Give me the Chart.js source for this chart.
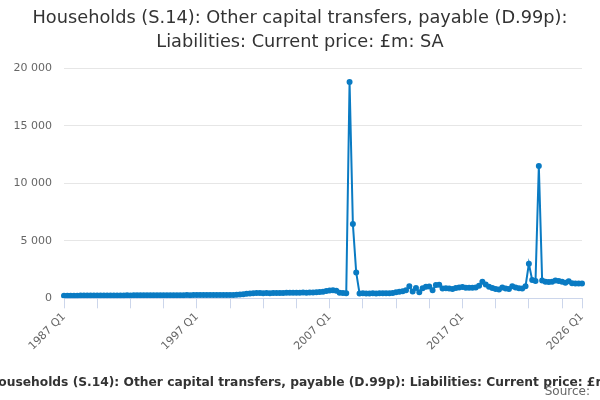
<!DOCTYPE html>
<html>
<head>
<meta charset="utf-8">
<script src="https://cdn.jsdelivr.net/npm/chart.js@4.4.1/dist/chart.umd.min.js"></script>
<style>
  body { margin: 0; background: #fff; }
  #wrap { position: relative; width: 600px; height: 400px; overflow: hidden; }
  #caption { position: absolute; left: -12px; top: 375px; white-space: nowrap;
    font: bold 12.25px "DejaVu Sans", sans-serif; color: #333; }
  #source { position: absolute; right: 10px; top: 384px; white-space: nowrap;
    font: 12px "DejaVu Sans", sans-serif; color: #666; }
</style>
</head>
<body>
<div id="wrap">
  <canvas id="chart" width="600" height="400"></canvas>
  <div id="caption">Households (S.14): Other capital transfers, payable (D.99p): Liabilities: Current price: £m: SA</div>
  <div id="source">Source:</div>
</div>
<script>
var startYear = 1987; // first quarter is 1987 Q1, last is 2026 Q1
var titleLines = ['Households (S.14): Other capital transfers, payable (D.99p):', 'Liabilities: Current price: £m: SA'];
var tickMarks = [0, 10, 20, 30, 40, 50, 60, 70, 80, 90, 100, 110, 120, 130, 140, 150, 156]; // quarter positions with a tick mark
var labelTicks = [0, 40, 80, 120, 156]; // quarter positions with a label

// £m, one value per quarter
var values1987 = [220, 225, 225, 230, 230, 235, 235, 240, 240, 240,
                  245, 245, 250, 250, 250, 255, 250, 255, 255, 260];
var values1992 = [255, 260, 260, 260, 265, 260, 265, 265, 270, 265,
                  270, 270, 270, 275, 270, 275, 275, 280, 275, 280];
var values1997 = [280, 285, 285, 280, 285, 290, 290, 290, 295, 290,
                  300, 300, 310, 330, 360, 400, 430, 450, 460, 455];
var values2002 = [450, 455, 450, 460, 455, 470, 470, 480, 475, 480,
                  490, 490, 500, 495, 500, 510, 530, 560, 580, 640];
var values2007 = [680, 700, 650, 480, 470, 450, 18800, 6450, 2250, 430,
                  440, 430, 430, 440, 430, 440, 440, 440, 450, 460];
var values2012 = [530, 580, 620, 700, 1040, 600, 900, 520, 880, 1000,
                  1020, 700, 1150, 1180, 850, 880, 860, 820, 900, 950];
var values2017 = [980, 920, 920, 930, 950, 1100, 1450, 1200, 1000, 900,
                  800, 760, 950, 850, 800, 1050, 950, 870, 850, 1050];
var values2022 = [3000, 1600, 1500, 11500, 1550, 1450, 1420, 1430, 1550, 1500,
                  1450, 1350, 1480, 1300, 1280, 1290, 1290];

var values = [].concat(values1987, values1992, values1997, values2002, values2007, values2012, values2017, values2022);

var labels = [];
for (var i = 0; i < values.length; i++) {
  labels.push((startYear + Math.floor(i / 4)) + ' Q' + (i % 4 + 1));
}

var lineColour = '#0a7bc3';

new Chart(document.getElementById('chart'), {
  type: 'line',
  data: {
    labels: labels,
    datasets: [{
      data: values,
      borderColor: lineColour,
      backgroundColor: lineColour,
      borderWidth: 2,
      pointRadius: 2,
      pointHoverRadius: 3,
      tension: 0
    }]
  },
  options: {
    responsive: false,
    animation: false,
    layout: { padding: { left: 9, right: 9, top: 0, bottom: 45 } },
    plugins: {
      legend: { display: false },
      tooltip: { enabled: false },
      title: {
        display: true,
        text: titleLines,
        color: '#333',
        font: { family: 'DejaVu Sans', size: 17.75, weight: 'normal', lineHeight: 1.33 },
        padding: { top: 7, bottom: 14 }
      }
    },
    scales: {
      x: {
        type: 'category',
        afterBuildTicks: function(axis) {
          axis.ticks = tickMarks.map(function(v) { return { value: v }; });
        },
        afterFit: function(axis) {
          axis.paddingLeft = 0;
          axis.paddingRight = 18; // plot ends 18px from the right edge
        },
        ticks: {
          autoSkip: false,
          maxRotation: 45,
          minRotation: 45,
          color: '#666',
          font: { family: 'DejaVu Sans', size: 11 },
          padding: 2,
          callback: function(value) {
            return labelTicks.indexOf(value) != -1 ? labels[value] : '';
          }
        },
        grid: { drawOnChartArea: false, drawTicks: true, tickLength: 10, color: '#ccd6eb' },
        border: { color: '#ccd6eb' }
      },
      y: {
        min: 0,
        max: 20000,
        afterFit: function(axis) {
          axis.width = 55;
        },
        ticks: {
          stepSize: 5000,
          color: '#666',
          font: { family: 'DejaVu Sans', size: 11 },
          padding: 12,
          callback: function(value) {
            return String(value).replace(/\B(?=(\d{3})+(?!\d))/g, ' ');
          }
        },
        grid: { color: '#e6e6e6', drawTicks: false },
        border: { display: false }
      }
    }
  }
});
</script>
</body>
</html>
